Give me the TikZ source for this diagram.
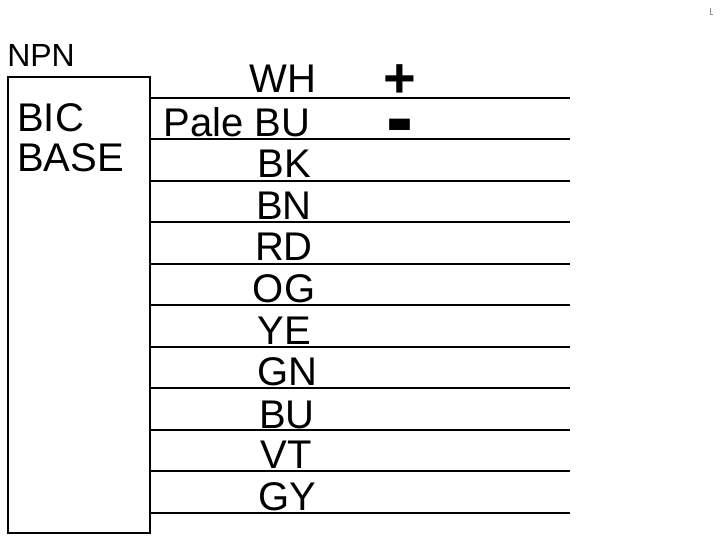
\documentclass[tikz,border=0pt]{standalone}
\usepackage{graphicx}
\usepackage{fontspec}
\setmainfont{Liberation Sans}
\tikzset{
  wirelabel/.style={inner sep=0pt,font=\fontsize{30}{30}\selectfont,anchor=base},
  boxlabel/.style={inner sep=0pt,font=\fontsize{30}{30}\selectfont,anchor=base west},
  toplabel/.style={inner sep=0pt,font=\fontsize{24}{24}\selectfont,anchor=base west},
  wireline/.style={line width=0.9pt,black},
  boxline/.style={line width=1.1pt,black},
  signlabel/.style={inner sep=0pt,font=\bfseries\fontsize{42}{42}\selectfont,anchor=base},
  minuslabel/.style={inner sep=0pt,font=\bfseries\fontsize{42}{42}\selectfont,anchor=base},
  tinymark/.style={line width=0.5pt,black!45}
}
\begin{document}
\begin{tikzpicture}[x=0.75pt,y=-0.75pt]
\useasboundingbox (0,0) rectangle (720,542);
\coordinate (boxtl) at (8,77);
\coordinate (boxbr) at (150,533);
\draw[boxline] (boxtl) rectangle (boxbr);
\node[toplabel] (npn) at (7,67) {NPN};
\node[boxlabel] (bic) at (17,131) {BIC};
\node[boxlabel] (base) at (17,171) {BASE};
\foreach \n/\y in {1/98,2/139,3/181,4/222,5/264,6/305,7/347,8/388,9/430,10/471,11/513}{
  \coordinate (s\n) at (150,\y);
  \coordinate (e\n) at (570,\y);
  \draw[wireline] (s\n) -- (e\n);
}
\node[wirelabel] (wh) at (283,92) {WH};
\node[wirelabel] (pale) at (237,136) {Pale BU};
\node[wirelabel] (bk) at (284,177) {BK};
\node[wirelabel] (bn) at (284,219) {BN};
\node[wirelabel] (rd) at (284,260) {RD};
\node[wirelabel] (og) at (284,302) {OG};
\node[wirelabel] (ye) at (284,344) {YE};
\node[wirelabel] (gn) at (287,385) {GN};
\node[wirelabel] (bu) at (287,428) {BU};
\node[wirelabel] (vt) at (286,468) {VT};
\node[wirelabel] (gy) at (287,510) {GY};
\node[signlabel] (plus) at (400,97) {+};
\node[minuslabel] (minus) at (400,149) {\scalebox{1.45}[1.7]{-}};
\draw[tinymark] (710,8) -- (710,14) -- (713,14);
\end{tikzpicture}
\end{document}
